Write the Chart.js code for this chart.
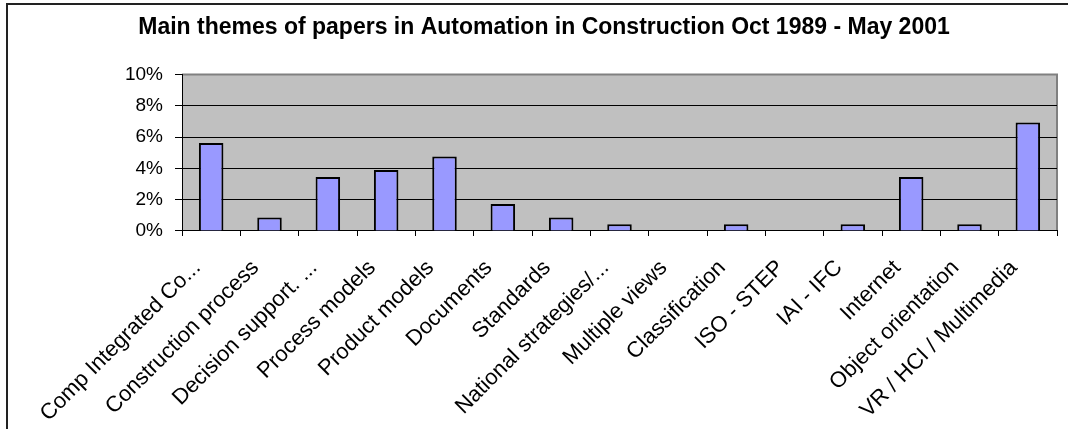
<!DOCTYPE html>
<html>
<head>
<meta charset="utf-8">
<script src="https://cdn.jsdelivr.net/npm/chart.js@4/dist/chart.umd.min.js"></script>
<style>
  html, body { margin: 0; padding: 0; background: #fff; overflow: hidden; }
  #frame { position: absolute; left: 6px; top: 3px; width: 1200px; height: 600px; border: 2px solid #222; }
  #wrap { position: absolute; left: 0; top: 0; width: 1068px; height: 429px; }
</style>
</head>
<body>
<div id="frame"></div>
<div id="wrap"><canvas id="themesChart"></canvas></div>
<script>
// paper themes, share of all papers (%)
const themes = [
    'Comp Integrated Co...', 'Construction process', 'Decision support. ...', 'Process models',
    'Product models', 'Documents', 'Standards', 'National strategies/...', 'Multiple views',
    'Classification', 'ISO - STEP', 'IAI - IFC', 'Internet', 'Object orientation',
    'VR / HCI / Multimedia'
];
const shares = [5.63, 0.87, 3.46, 3.90, 4.76, 1.73, 0.87, 0.43, 0, 0.43, 0, 0.43, 3.46, 0.43, 6.93];
const yTicks = [0, 2, 4, 6, 8, 10];

const titleText = 'Main themes of papers in Automation in Construction Oct 1989 - May 2001';

Chart.defaults.font.family = "'Liberation Sans', Arial, sans-serif";
Chart.defaults.color = '#000';

// grey plot area with grey top/right border
const plotBackground = {
    id: 'plotBackground',
    beforeDraw(chart) {
        const { ctx, chartArea: a } = chart;
        ctx.save();
        ctx.fillStyle = '#C0C0C0';
        ctx.fillRect(a.left, a.top, a.right - a.left, a.bottom - a.top);
        ctx.strokeStyle = '#808080';
        ctx.lineWidth = 2;
        ctx.beginPath();
        ctx.moveTo(a.left, a.top);
        ctx.lineTo(a.right, a.top);
        ctx.lineTo(a.right, a.bottom);
        ctx.stroke();
        ctx.restore();
    }
};

new Chart(document.getElementById('themesChart'), {
    type: 'bar',
    data: {
        labels: themes,
        datasets: [{
            data: shares,
            backgroundColor: '#9999FF',
            borderColor: '#000',
            borderWidth: 2,
            barPercentage: 0.42,
            categoryPercentage: 1
        }]
    },
    options: {
        responsive: true,
        maintainAspectRatio: false,
        animation: false,
        layout: { padding: { left: 31, right: 11, top: 0, bottom: 0 } },
        plugins: {
            legend: { display: false },
            tooltip: { enabled: false },
            title: {
                display: true,
                text: titleText,
                color: '#000',
                font: { size: 23, weight: 'bold' },
                padding: { top: 14, bottom: 33 }
            }
        },
        scales: {
            x: {
                grid: {
                    drawOnChartArea: false,
                    drawTicks: true,
                    tickLength: 5,
                    color: '#000'
                },
                border: { color: '#000', width: 1 },
                ticks: {
                    autoSkip: false,
                    minRotation: 45,
                    maxRotation: 45,
                    padding: 19,
                    labelOffset: -14,
                    font: { size: 22 }
                },
                afterFit(scale) { scale.height = 198; }
            },
            y: {
                min: 0,
                max: 10,
                afterBuildTicks(scale) { scale.ticks = yTicks.map(v => ({ value: v })); },
                grid: {
                    color: c => (c.tick && c.tick.value === 10) ? 'rgba(0,0,0,0)' : '#000',
                    tickColor: '#000',
                    tickLength: 7,
                    lineWidth: 1
                },
                border: { color: '#000', width: 1 },
                ticks: {
                    padding: 12,
                    font: { size: 19 },
                    callback: v => v + '%'
                },
                afterFit(scale) { scale.width = 151; }
            }
        }
    },
    plugins: [plotBackground]
});
</script>
</body>
</html>
